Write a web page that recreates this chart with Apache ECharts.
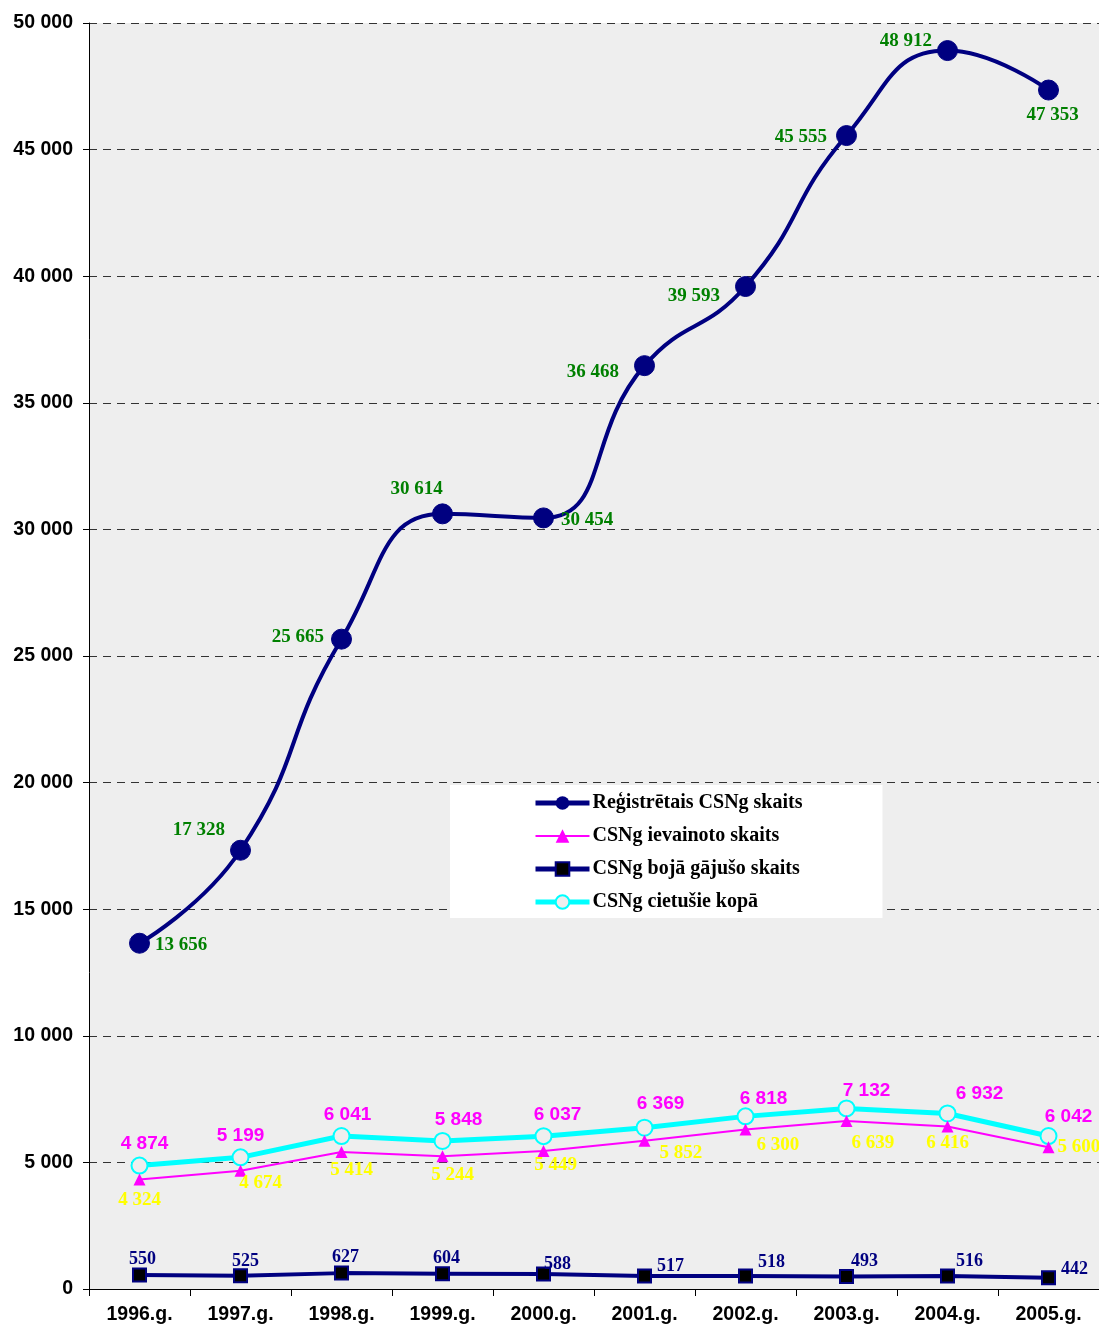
<!DOCTYPE html>
<html>
<head>
<meta charset="utf-8">
<script src="https://cdn.jsdelivr.net/npm/echarts@6/dist/echarts.min.js"></script>
<style>
  html, body { margin: 0; padding: 0; background: #fff; }
  #chart { width: 1099px; height: 1326px; }
</style>
</head>
<body>
<div id="chart"></div>
<script>
const years = ["1996.g.", "1997.g.", "1998.g.", "1999.g.", "2000.g.", "2001.g.", "2002.g.", "2003.g.", "2004.g.", "2005.g."];
const registered = [13656, 17328, 25665, 30614, 30454, 36468, 39593, 45555, 48912, 47353];
const injured = [4324, 4674, 5414, 5244, 5449, 5852, 6300, 6639, 6416, 5600];
const killed = [550, 525, 627, 604, 588, 517, 518, 493, 516, 442];
const victims = [4874, 5199, 6041, 5848, 6037, 6369, 6818, 7132, 6932, 6042];

// label placement per point (position, offset)
const regLabelPos = [
  ["right", [0, 2]], ["left", [0, -20]], ["left", [-2, -2]], ["top", [-26, 0]], ["right", [2, 2]],
  ["left", [-10, 6]], ["left", [-10, 10]], ["left", [-4, 2]], ["left", [0, -9]], ["bottom", [4, 0]]
];
const injLabelPos = [
  ["bottom", [0, 0]], ["bottom", [20, -8]], ["bottom", [10, -2]], ["bottom", [10, -2]], ["bottom", [12, -6]],
  ["right", [4, 12]], ["right", [0, 16]], ["right", [-6, 22]], ["bottom", [0, -4]], ["right", [-2, 0]]
];
const vicLabelPos = [
  ["top", [5, 2]], ["top", [0, 2]], ["top", [6, 2]], ["top", [16, 2]], ["top", [14, 2]],
  ["top", [16, 0]], ["top", [18, 6]], ["top", [20, 6]], ["top", [32, 4]], ["top", [20, 4]]
];
const killLabelPos = [
  ["top", [3, 6]], ["top", [5, 7]], ["top", [4, 6]], ["top", [4, 6]], ["top", [14, 12]],
  ["right", [0, -10]], ["right", [0, -14]], ["top", [18, 6]], ["top", [22, 7]], ["right", [0, -8]]
];

function fmt(v) {
  return String(v).replace(/\B(?=(\d{3})+(?!\d))/g, " ");
}
function withLabels(values, pos) {
  return values.map((v, i) => ({
    value: v,
    label: { position: pos[i][0], offset: pos[i][1] }
  }));
}

const serif = '"Times New Roman", "Liberation Serif", serif';
const sans = 'Arial, "Liberation Sans", sans-serif';

const chart = echarts.init(document.getElementById("chart"));
const option = {
  animation: false,
  grid: {
    left: 89, right: 0, top: 23, bottom: 37,
    show: true, backgroundColor: "#eeeeee", borderWidth: 0
  },
  legend: {
    orient: "vertical",
    left: 450, top: 785,
    backgroundColor: "#ffffff",
    padding: [8, 80, 6, 83],
    itemWidth: 54, itemHeight: 17, itemGap: 13,
    textStyle: { fontFamily: serif, fontWeight: "bold", fontSize: 20, color: "#000", padding: [0, 0, 0, -2] },
    data: [
      { name: "Reģistrētais CSNg skaits", lineStyle: { width: 5 } },
      { name: "CSNg ievainoto skaits", lineStyle: { width: 2 } },
      { name: "CSNg bojā gājušo skaits", lineStyle: { width: 5 } },
      { name: "CSNg cietušie kopā", lineStyle: { width: 5 } }
    ]
  },
  xAxis: {
    type: "category",
    data: years,
    boundaryGap: true,
    axisLine: { lineStyle: { color: "#000", width: 1 } },
    axisTick: { show: true, length: 7, lineStyle: { color: "#000" } },
    axisLabel: { margin: 16, fontFamily: sans, fontWeight: "bold", fontSize: 19.5, color: "#000" },
    splitLine: { show: false }
  },
  yAxis: {
    type: "value",
    min: 0, max: 50000, interval: 5000,
    axisLine: { show: true, lineStyle: { color: "#000", width: 1 } },
    axisTick: { show: true, length: 6, lineStyle: { color: "#000" } },
    axisLabel: { margin: 16, fontFamily: sans, fontWeight: "bold", fontSize: 19.5, color: "#000", formatter: fmt },
    splitLine: { show: true, lineStyle: { color: "#333", type: [8, 6], width: 1 } }
  },
  series: [
    {
      name: "Reģistrētais CSNg skaits",
      type: "line",
      smooth: 0.5,
      data: withLabels(registered, regLabelPos),
      symbol: "circle", symbolSize: 20,
      lineStyle: { color: "#000080", width: 4 },
      itemStyle: { color: "#000080", borderColor: "#000080" },
      label: { show: true, fontFamily: serif, fontWeight: "bold", fontSize: 19, color: "#008000", formatter: p => fmt(p.value) },
      z: 5
    },
    {
      name: "CSNg ievainoto skaits",
      type: "line",
      data: withLabels(injured, injLabelPos),
      symbol: "triangle", symbolSize: 12,
      lineStyle: { color: "#ff00ff", width: 2 },
      itemStyle: { color: "#ff00ff" },
      label: { show: true, fontFamily: serif, fontWeight: "bold", fontSize: 19, color: "#ffff00", formatter: p => fmt(p.value) },
      z: 3
    },
    {
      name: "CSNg bojā gājušo skaits",
      type: "line",
      data: withLabels(killed, killLabelPos),
      symbol: "rect", symbolSize: 13,
      lineStyle: { color: "#000080", width: 4 },
      itemStyle: { color: "#000000", borderColor: "#000080", borderWidth: 2 },
      label: { show: true, fontFamily: serif, fontWeight: "bold", fontSize: 18, color: "#000080", formatter: p => fmt(p.value) },
      z: 4
    },
    {
      name: "CSNg cietušie kopā",
      type: "line",
      data: withLabels(victims, vicLabelPos),
      symbol: "circle", symbolSize: 16,
      lineStyle: { color: "#00ffff", width: 5 },
      itemStyle: { color: "#eeeeee", borderColor: "#00ffff", borderWidth: 2 },
      label: { show: true, fontFamily: sans, fontWeight: "bold", fontSize: 19, color: "#ff00ff", formatter: p => fmt(p.value) },
      z: 2
    }
  ]
};
chart.setOption(option);
</script>
</body>
</html>
